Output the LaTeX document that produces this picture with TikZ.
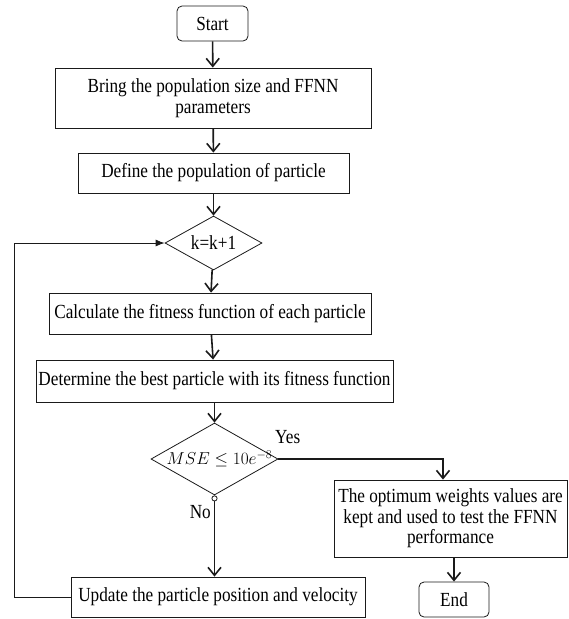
\documentclass[tikz,border=0pt]{standalone}
\usepackage{amsmath,amssymb}
\usepackage{fontspec}
\setmainfont{Liberation Serif}[FakeStretch=0.86]
\usepackage{tikz}
\usetikzlibrary{arrows.meta,positioning,shapes.geometric}
\definecolor{ink}{HTML}{1A1A1A}
\tikzset{
  stepcard/.style={draw=ink,fill=white,line width=0.8pt,align=center,
                   inner sep=2pt,font=\fontsize{20}{20.5}\selectfont},
  termcard/.style={stepcard,rounded corners=5pt},
  testcard/.style={draw=ink,fill=white,line width=0.8pt,diamond,inner sep=0pt},
  testtext/.style={inner sep=0pt,font=\fontsize{20}{20.5}\selectfont},
  edgetag/.style={inner sep=1pt,font=\fontsize{20}{20.5}\selectfont},
  flowarr/.style={-{Straight Barb[length=8pt,width=13pt]},line width=1.6pt,
                  draw=ink},
  backarr/.style={-{Latex[length=9pt,width=7pt]},line width=0.8pt,draw=ink}
}

\begin{document}
\begin{tikzpicture}[x=1pt,y=-1pt]
    \path[use as bounding box] (0,0) rectangle (569,619);
    \node[termcard,minimum width=71pt,minimum height=35pt] (start)
      at (212.5,23.5) {Start};
    \node[stepcard,minimum width=316pt,minimum height=60pt] (bring)
      at (213,98) {Bring the population size and FFNN\\parameters};
    \node[stepcard,minimum width=271pt,minimum height=40pt] (define)
      at (213.5,173) {Define the population of particle};
    \node[testcard,minimum width=97pt,minimum height=54pt] (kinc)
      at (213.5,243) {};
    \node[testtext] (kinctext) at (kinc) {k=k+1};
    \node[stepcard,minimum width=322pt,minimum height=41pt] (calc)
      at (210,313.5) {Calculate the fitness function of each particle};
    \node[stepcard,minimum width=357pt,minimum height=42pt] (best)
      at (214.5,381) {Determine the best particle with its fitness function};
    \node[testcard,minimum width=127pt,minimum height=72pt] (mse)
      at (214.5,459) {};
    \node[testtext,font=\fontsize{17}{20}\selectfont] (msetext)
      at ([xshift=5pt]mse) {$MSE \leq 10e^{-8}$};
    \node[stepcard,minimum width=233pt,minimum height=77pt] (keep)
      at (450.5,518.5)
      {The optimum weights values are\\kept and used to test the FFNN\\
       performance};
    \node[termcard,minimum width=70pt,minimum height=35pt] (finish)
      at (454,599.5) {End};
    \node[stepcard,minimum width=294pt,minimum height=40pt] (update)
      at (218,597) {Update the particle position and velocity};
    \draw[flowarr] (start) -- (bring);
    \draw[flowarr] (bring) -- (define);
    \draw[flowarr] (define) -- (kinc);
    \draw[flowarr] (kinc) -- (calc);
    \draw[flowarr] (calc) -- (best);
    \draw[flowarr] (best) -- (mse);
    \draw[flowarr] (mse.east) -| ([xshift=-7.5pt]keep.north);
    \draw[flowarr] (keep.south -| finish.north) -- (finish.north);
    \draw[flowarr,{Circle[open,length=6pt,width=6pt,line width=0.8pt]}-{Straight Barb[length=8pt,width=13pt]}]
      (mse.south) -- (mse.south |- update.north);
    \draw[backarr] (update.west) -- ++(-56,0) |- (kinc.west);
    \node[edgetag,anchor=west] (yestag) at (274,437) {Yes};
    \node[edgetag,anchor=east] (notag) at (212,512) {No};
  \end{tikzpicture}
\end{document}
